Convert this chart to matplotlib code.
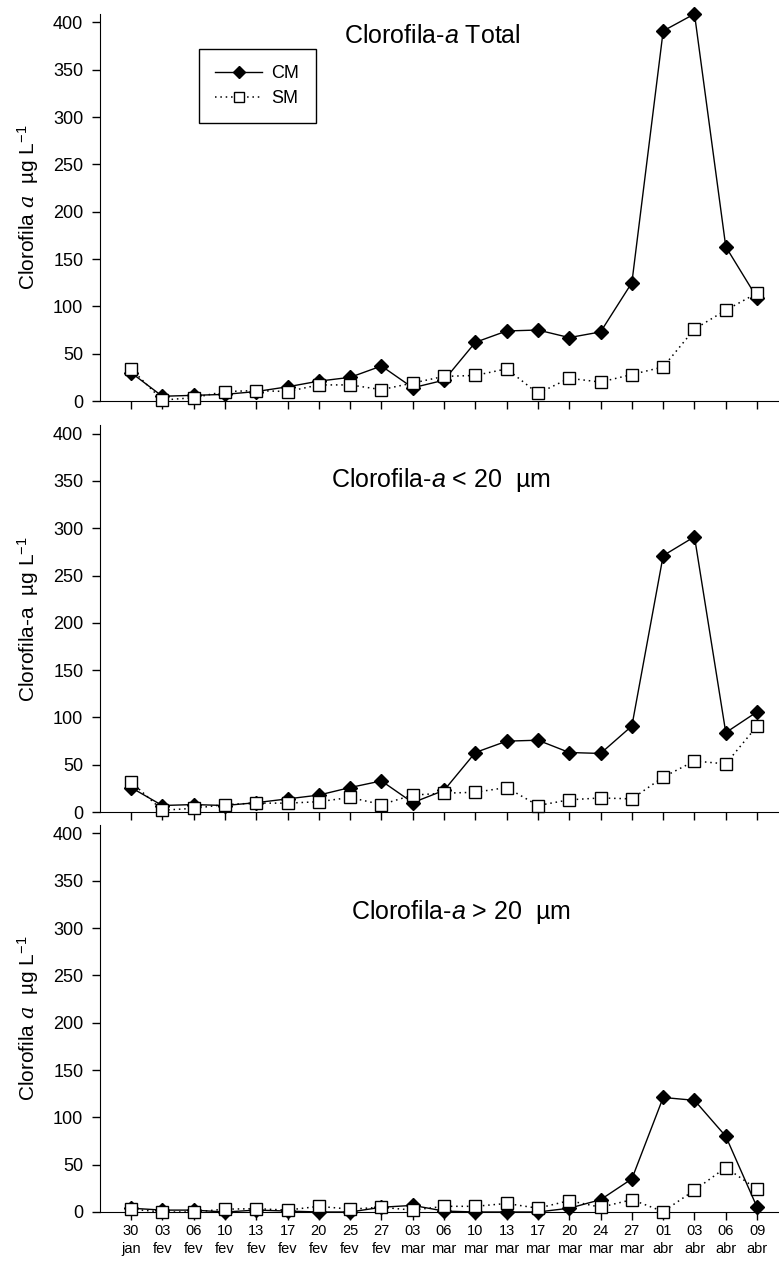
import matplotlib
matplotlib.use("Agg")
import matplotlib.pyplot as plt
import numpy as np

plt.rcParams['font.family'] = ['Liberation Sans', 'DejaVu Sans']
plt.rcParams['mathtext.fontset'] = 'custom'
plt.rcParams['mathtext.rm'] = 'Liberation Sans'
plt.rcParams['mathtext.it'] = 'DejaVu Serif:italic'
plt.rcParams['mathtext.sf'] = 'Liberation Sans:italic'

days = ["30", "03", "06", "10", "13", "17", "20", "25", "27", "03", "06",
        "10", "13", "17", "20", "24", "27", "01", "03", "06", "09"]
months = ["jan", "fev", "fev", "fev", "fev", "fev", "fev", "fev", "fev", "mar", "mar",
          "mar", "mar", "mar", "mar", "mar", "mar", "abr", "abr", "abr", "abr"]

# Clorofila-a total
total_cm = [30, 5, 6, 7, 10, 15, 21, 25, 37, 14, 22, 62, 74, 75, 67, 73, 125, 391, 409, 163, 109]
total_sm = [34, 1, 3.5, 10, 11, 10, 17, 17, 12, 19, 26, 27, 34, 8, 24, 20, 28, 36, 76, 96, 114]

# Clorofila-a < 20 um
small_cm = [26, 7, 8, 7, 10, 14, 18, 26, 33, 10, 23, 63, 75, 76, 63, 62, 91, 271, 291, 84, 106]
small_sm = [32, 2, 4, 8, 9.5, 9.5, 11, 15.5, 8, 18, 20, 21, 26, 7, 13, 15, 14, 37, 54, 51, 91]

# Clorofila-a > 20 um
large_cm = [4, 2, 2, 0, 2, 1, 0, 0, 5, 7, 1, 0, 0, 0, 4, 13, 35, 121, 118, 80, 5]
large_sm = [3, 0, 0, 3, 3.5, 2, 6, 3, 5, 2, 6, 6, 9, 4, 12, 5, 13, 0.5, 23, 47, 24]

titles = ["Clorofila-$\\mathsf{a}$ Total",
          "Clorofila-$\\mathsf{a}$ < 20  µm",
          "Clorofila-$\\mathsf{a}$ > 20  µm"]
ylabels = ["Clorofila $a$  µg L$^{-1}$",
           "Clorofila-a  µg L$^{-1}$",
           "Clorofila $a$  µg L$^{-1}$"]
title_pos = [(0.489, 0.943), (0.502, 0.858), (0.532, 0.775)]
series = [(total_cm, total_sm), (small_cm, small_sm), (large_cm, large_sm)]
bottoms = [0.683, 0.358, 0.0419]

fig = plt.figure(figsize=(7.79, 12.65), dpi=100)
x = np.arange(len(days))
xlabels = [d + "\n" + m for d, m in zip(days, months)]

for i in range(3):
    ax = fig.add_axes([0.1284, bottoms[i], 0.8716, 0.306])
    cm, sm = series[i]
    ax.plot(x, cm, color='black', lw=1, marker='D', ms=7.2, mfc='black',
            mec='black', clip_on=False, zorder=3, label='CM')
    ax.plot(x, sm, color='black', lw=1.1, ls=(0, (1, 2.5)), marker='s', ms=8,
            mfc='white', mec='black', mew=1, clip_on=False, zorder=4, label='SM')
    ax.set_xlim(-0.99, 20.7)
    ax.set_ylim(0, 409)
    ax.set_yticks([0, 50, 100, 150, 200, 250, 300, 350, 400])
    ax.set_xticks(x)
    if i == 2:
        ax.set_xticklabels(xlabels, fontsize=10.5, linespacing=1.35)
    else:
        ax.set_xticklabels([])
    ax.spines['top'].set_visible(False)
    ax.spines['right'].set_visible(False)
    ax.tick_params(axis='x', direction='out', length=6, width=1, pad=3)
    ax.tick_params(axis='y', direction='out', length=6, width=1, labelsize=13, pad=6)
    ax.set_ylabel(ylabels[i], fontsize=15, labelpad=9)
    ax.text(title_pos[i][0], title_pos[i][1], titles[i], transform=ax.transAxes,
            ha='center', va='center', fontsize=18)
    if i == 0:
        leg = ax.legend(loc='upper left', bbox_to_anchor=(0.146, 0.91), borderaxespad=0,
                        fancybox=False, edgecolor='black', framealpha=1, fontsize=13,
                        handlelength=2.6, handletextpad=0.5, borderpad=0.9,
                        labelspacing=0.45, markerscale=0.85)
        leg.get_frame().set_linewidth(1)

plt.savefig("out.png", dpi=100)
